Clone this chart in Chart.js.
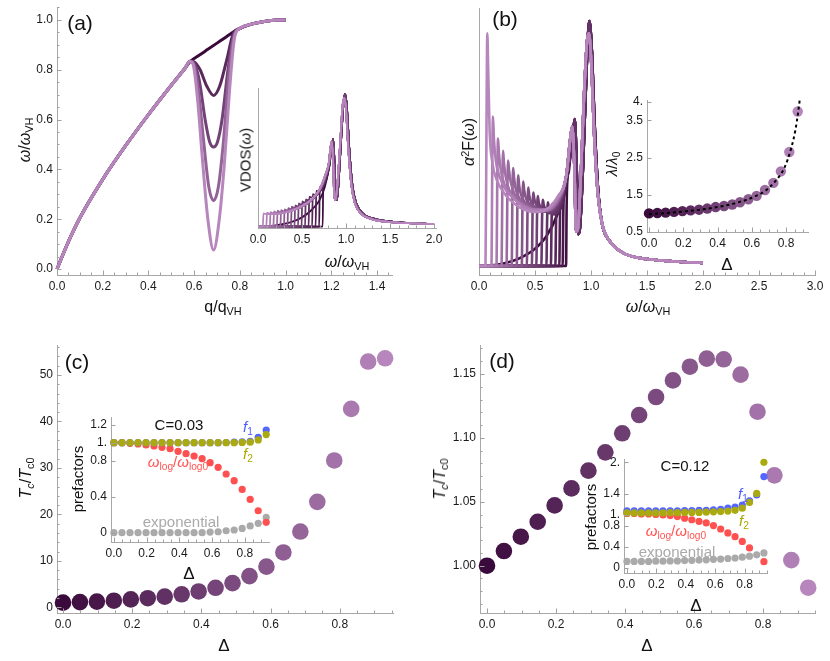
<!DOCTYPE html>
<html><head><meta charset="utf-8">
<script src="https://cdn.jsdelivr.net/npm/chart.js@4.4.0/dist/chart.umd.min.js"></script>
<style>
html,body{margin:0;padding:0;background:#fff;}
#wrap{position:relative;width:830px;height:661px;overflow:hidden;font-family:"Liberation Sans",Arial,sans-serif;color:#111;}
canvas{position:absolute;left:0;top:0;}
.t{position:absolute;white-space:nowrap;transform:translate(-50%,-50%);line-height:1;}
.r{transform:translate(-50%,-50%) rotate(-90deg);}
sub{font-size:0.68em;vertical-align:-0.3em;line-height:0;}
sup{font-size:0.68em;vertical-align:0.5em;line-height:0;}
</style></head><body><div id="wrap">
<canvas id="cA" width="830" height="661"></canvas>
<canvas id="cAi" width="830" height="661"></canvas>
<canvas id="cB" width="830" height="661"></canvas>
<canvas id="cBi" width="830" height="661"></canvas>
<canvas id="cC" width="830" height="661"></canvas>
<canvas id="cCi" width="830" height="661"></canvas>
<canvas id="cD" width="830" height="661"></canvas>
<canvas id="cDi" width="830" height="661"></canvas>

<div class="t" style="left:80px;top:22px;font-size:21px">(a)</div>
<div class="t" style="left:505px;top:18px;font-size:21px">(b)</div>
<div class="t" style="left:77px;top:361px;font-size:21px">(c)</div>
<div class="t" style="left:502px;top:360px;font-size:21px">(d)</div>

<div class="t r" style="left:25px;top:140px;font-size:16px"><i>ω</i>/<i>ω</i><sub>VH</sub></div>
<div class="t" style="left:223px;top:307px;font-size:16px">q/q<sub>VH</sub></div>
<div class="t" style="left:347px;top:262px;font-size:16px"><i>ω</i>/<i>ω</i><sub>VH</sub></div>
<div class="t r" style="left:245px;top:160px;font-size:15px">VDOS(<i>ω</i>)</div>

<div class="t r" style="left:469px;top:142px;font-size:16px"><i>α</i><sup>2</sup>F(<i>ω</i>)</div>
<div class="t" style="left:648px;top:307px;font-size:16px"><i>ω</i>/<i>ω</i><sub>VH</sub></div>
<div class="t r" style="left:611px;top:164px;font-size:15px"><i>λ</i>/<i>λ</i><sub>0</sub></div>
<div class="t" style="left:727px;top:264px;font-size:17px">Δ</div>

<div class="t r" style="left:26px;top:478px;font-size:16px"><i>T</i><sub><i>c</i></sub>/<i>T</i><sub>c0</sub></div>
<div class="t" style="left:224px;top:645px;font-size:17px">Δ</div>
<div class="t r" style="left:77px;top:479px;font-size:15px">prefactors</div>
<div class="t" style="left:189px;top:573px;font-size:17px">Δ</div>
<div class="t" style="left:179px;top:424px;font-size:15px">C=0.03</div>
<div class="t" style="left:248px;top:426px;font-size:15px;color:#4d5cff"><i>f</i><sub>1</sub></div>
<div class="t" style="left:248px;top:453px;font-size:15px;color:#a8a800"><i>f</i><sub>2</sub></div>
<div class="t" style="left:178px;top:461px;font-size:15px;color:#ff5555"><i>ω</i><sub>log</sub>/<i>ω</i><sub>log0</sub></div>
<div class="t" style="left:181px;top:521px;font-size:15px;color:#aaaaaa">exponential</div>

<div class="t r" style="left:440px;top:479px;font-size:16px"><i>T</i><sub><i>c</i></sub>/<i>T</i><sub>c0</sub></div>
<div class="t" style="left:647px;top:645px;font-size:17px">Δ</div>
<div class="t r" style="left:590px;top:517px;font-size:15px">prefactors</div>
<div class="t" style="left:696px;top:605px;font-size:17px">Δ</div>
<div class="t" style="left:685px;top:465px;font-size:15px">C=0.12</div>
<div class="t" style="left:743px;top:493px;font-size:15px;color:#4d5cff"><i>f</i><sub>1</sub></div>
<div class="t" style="left:744px;top:520px;font-size:15px;color:#a8a800"><i>f</i><sub>2</sub></div>
<div class="t" style="left:676px;top:530px;font-size:15px;color:#ff5555"><i>ω</i><sub>log</sub>/<i>ω</i><sub>log0</sub></div>
<div class="t" style="left:677px;top:551px;font-size:15px;color:#aaaaaa">exponential</div>
</div>
<script>
// ================= DATA =================
// Panel (a): dispersion curves
const aBaseLeft = [[0,0],[0.05,0.11],[0.1,0.205],[0.2,0.36],[0.3,0.495],[0.4,0.62],[0.5,0.738],[0.56,0.806]];
const aBaseRight = [[0.8,0.966],[0.85,0.983],[0.9,0.993],[0.95,0.999],[1.0,1.0]];
const aMid0 = [[0.582,0.832],[0.62,0.857],[0.66,0.882],[0.7,0.907],[0.74,0.932],[0.779,0.956]];
const aMid1 = [[0.582,0.834],[0.6,0.832],[0.626,0.8],[0.655,0.735],[0.685,0.697],[0.712,0.735],[0.742,0.838],[0.771,0.945]];
const aMid2 = [[0.582,0.834],[0.598,0.828],[0.622,0.76],[0.648,0.6],[0.668,0.51],[0.685,0.49],[0.702,0.51],[0.722,0.6],[0.748,0.8],[0.773,0.94]];
const aMid3 = [[0.582,0.834],[0.597,0.824],[0.618,0.72],[0.643,0.5],[0.664,0.33],[0.685,0.274],[0.706,0.33],[0.727,0.5],[0.752,0.78],[0.775,0.935]];
const aMid4 = [[0.582,0.834],[0.596,0.82],[0.615,0.68],[0.638,0.42],[0.66,0.2],[0.685,0.076],[0.71,0.2],[0.732,0.42],[0.755,0.72],[0.777,0.93]];
const aXTicks = [0,0.2,0.4,0.6,0.8,1.0,1.2,1.4];
const aXLabels = ['0.0','0.2','0.4','0.6','0.8','1.0','1.2','1.4'];
const aYTicks = [0,0.2,0.4,0.6,0.8,1.0];
const aYLabels = ['0.0','0.2','0.4','0.6','0.8','1.0'];

// Panel (a) inset: VDOS curves, lightest (largest gap) to darkest (no gap)
const vHeads = [
 [[0,0],[0.055,0],[0.062,0.1],[0.09,0.095],[0.2,0.095],[0.3,0.105],[0.4,0.125],[0.5,0.155],[0.6,0.2],[0.7,0.28],[0.76,0.38]],
 [[0,0],[0.095,0],[0.102,0.105],[0.13,0.098],[0.2,0.096],[0.3,0.106],[0.4,0.126],[0.5,0.156],[0.6,0.2],[0.7,0.28],[0.76,0.38]],
 [[0,0],[0.135,0],[0.142,0.11],[0.17,0.1],[0.25,0.1],[0.35,0.115],[0.45,0.14],[0.55,0.175],[0.65,0.235],[0.72,0.31],[0.77,0.4]],
 [[0,0],[0.175,0],[0.182,0.115],[0.21,0.105],[0.28,0.105],[0.38,0.12],[0.48,0.148],[0.58,0.19],[0.67,0.25],[0.73,0.32],[0.77,0.4]],
 [[0,0],[0.215,0],[0.222,0.12],[0.25,0.11],[0.32,0.11],[0.42,0.128],[0.52,0.16],[0.62,0.21],[0.7,0.28],[0.77,0.4]],
 [[0,0],[0.255,0],[0.262,0.125],[0.29,0.115],[0.36,0.118],[0.46,0.138],[0.56,0.175],[0.65,0.23],[0.72,0.3],[0.78,0.41]],
 [[0,0],[0.295,0],[0.302,0.13],[0.33,0.122],[0.4,0.126],[0.5,0.15],[0.6,0.195],[0.68,0.255],[0.74,0.33],[0.78,0.41]],
 [[0,0],[0.335,0],[0.342,0.14],[0.37,0.132],[0.44,0.138],[0.54,0.165],[0.63,0.215],[0.7,0.28],[0.75,0.35],[0.79,0.43]],
 [[0,0],[0.375,0],[0.382,0.15],[0.41,0.142],[0.48,0.15],[0.57,0.18],[0.65,0.23],[0.71,0.29],[0.76,0.37],[0.79,0.43]],
 [[0,0],[0.415,0],[0.422,0.16],[0.45,0.153],[0.52,0.163],[0.6,0.195],[0.67,0.245],[0.72,0.3],[0.77,0.38],[0.8,0.45]],
 [[0,0],[0.455,0],[0.462,0.175],[0.49,0.168],[0.56,0.18],[0.63,0.21],[0.69,0.26],[0.74,0.32],[0.78,0.4],[0.8,0.45]],
 [[0,0],[0.495,0],[0.502,0.19],[0.53,0.183],[0.59,0.195],[0.65,0.225],[0.7,0.27],[0.75,0.34],[0.8,0.45]],
 [[0,0],[0.535,0],[0.542,0.205],[0.57,0.2],[0.62,0.21],[0.67,0.24],[0.72,0.29],[0.76,0.35],[0.8,0.45]],
 [[0,0],[0.575,0],[0.582,0.225],[0.61,0.22],[0.66,0.235],[0.7,0.26],[0.74,0.31],[0.78,0.38],[0.81,0.47]],
 [[0,0],[0.615,0],[0.622,0.245],[0.65,0.24],[0.69,0.255],[0.73,0.29],[0.77,0.35],[0.81,0.47]],
 [[0,0],[0.655,0],[0.662,0.27],[0.69,0.265],[0.73,0.29],[0.76,0.33],[0.79,0.4],[0.82,0.5]],
 [[0,0],[0.695,0],[0.702,0.3],[0.73,0.3],[0.76,0.33],[0.79,0.4],[0.82,0.5]],
 [[0,0],[0.735,0],[0.742,0.34],[0.77,0.35],[0.8,0.42],[0.82,0.5]],
 [[0,0],[0.2,0.01],[0.4,0.04],[0.5,0.07],[0.6,0.12],[0.7,0.2],[0.76,0.3],[0.8,0.42]]
];
const vTailLight = [[0.805,0.48],[0.825,0.6],[0.838,0.64],[0.852,0.52],[0.866,0.24],[0.88,0.2],[0.905,0.34],[0.935,0.64],[0.96,0.9],[0.978,0.97],[0.998,0.9],[1.025,0.6],[1.06,0.32],[1.1,0.18],[1.17,0.1],[1.3,0.055],[1.5,0.035],[1.75,0.025],[2.0,0.02]];
const vTailDark = [[0.825,0.55],[0.842,0.62],[0.855,0.66],[0.868,0.5],[0.882,0.2],[0.897,0.2],[0.92,0.38],[0.95,0.72],[0.975,0.95],[0.992,1.0],[1.01,0.9],[1.04,0.56],[1.075,0.3],[1.12,0.17],[1.2,0.095],[1.35,0.055],[1.55,0.035],[1.8,0.025],[2.0,0.02]];
const aiXTicks = [0,0.5,1.0,1.5,2.0];
const aiXLabels = ['0.0','0.5','1.0','1.5','2.0'];

// Panel (b): alpha^2 F curves, lightest to darkest
const bHeads = [
 [[0,0],[0.058,0],[0.066,0.5],[0.074,0.95],[0.082,0.8],[0.095,0.55],[0.12,0.42],[0.16,0.35],[0.22,0.3],[0.3,0.26],[0.4,0.23],[0.5,0.22],[0.6,0.23],[0.7,0.28]],
 [[0,0],[0.112,0],[0.118,0.4],[0.125,0.61],[0.133,0.52],[0.15,0.43],[0.18,0.37],[0.24,0.31],[0.3,0.28],[0.4,0.24],[0.5,0.225],[0.6,0.23],[0.7,0.28]],
 [[0,0],[0.157,0],[0.163,0.35],[0.17,0.52],[0.178,0.46],[0.195,0.39],[0.23,0.33],[0.3,0.28],[0.4,0.245],[0.5,0.23],[0.6,0.23],[0.7,0.275]],
 [[0,0],[0.202,0],[0.208,0.32],[0.215,0.47],[0.223,0.42],[0.24,0.36],[0.27,0.31],[0.33,0.27],[0.4,0.245],[0.5,0.228],[0.6,0.228],[0.7,0.27]],
 [[0,0],[0.247,0],[0.253,0.3],[0.26,0.43],[0.268,0.39],[0.285,0.34],[0.32,0.29],[0.4,0.25],[0.5,0.228],[0.6,0.226],[0.7,0.265]],
 [[0,0],[0.292,0],[0.298,0.28],[0.305,0.4],[0.313,0.36],[0.33,0.31],[0.37,0.27],[0.45,0.24],[0.55,0.225],[0.65,0.235],[0.72,0.28]],
 [[0,0],[0.337,0],[0.343,0.26],[0.35,0.37],[0.358,0.33],[0.375,0.29],[0.41,0.26],[0.48,0.235],[0.58,0.225],[0.66,0.24],[0.72,0.28]],
 [[0,0],[0.382,0],[0.388,0.24],[0.395,0.345],[0.403,0.31],[0.42,0.275],[0.46,0.25],[0.53,0.23],[0.6,0.225],[0.67,0.24],[0.73,0.285]],
 [[0,0],[0.427,0],[0.433,0.22],[0.44,0.32],[0.448,0.29],[0.465,0.26],[0.5,0.24],[0.56,0.225],[0.62,0.225],[0.68,0.245],[0.73,0.285]],
 [[0,0],[0.472,0],[0.478,0.21],[0.485,0.3],[0.493,0.275],[0.51,0.25],[0.55,0.23],[0.6,0.222],[0.65,0.228],[0.7,0.25],[0.74,0.29]],
 [[0,0],[0.512,0],[0.518,0.2],[0.525,0.285],[0.533,0.26],[0.55,0.24],[0.59,0.222],[0.64,0.22],[0.69,0.24],[0.74,0.29]],
 [[0,0],[0.557,0],[0.563,0.19],[0.57,0.27],[0.578,0.25],[0.595,0.23],[0.63,0.215],[0.67,0.22],[0.71,0.245],[0.75,0.3]],
 [[0,0],[0.602,0],[0.608,0.18],[0.615,0.26],[0.623,0.24],[0.64,0.22],[0.67,0.21],[0.71,0.235],[0.75,0.29]],
 [[0,0],[0.642,0],[0.648,0.18],[0.655,0.255],[0.663,0.235],[0.68,0.215],[0.71,0.22],[0.75,0.28]],
 [[0,0],[0.682,0],[0.688,0.18],[0.695,0.26],[0.703,0.24],[0.72,0.23],[0.75,0.26],[0.78,0.34]],
 [[0,0],[0.717,0],[0.723,0.2],[0.73,0.28],[0.74,0.27],[0.76,0.29],[0.79,0.38]],
 [[0,0],[0.747,0],[0.753,0.22],[0.76,0.31],[0.77,0.31],[0.79,0.37],[0.81,0.45]],
 [[0,0],[0.777,0],[0.783,0.26],[0.79,0.36],[0.8,0.38],[0.82,0.47]],
 [[0,0],[0.1,0.002],[0.2,0.008],[0.3,0.02],[0.4,0.04],[0.5,0.07],[0.6,0.12],[0.7,0.21],[0.76,0.3],[0.8,0.4]]
];
const bTailLight = [[0.78,0.37],[0.81,0.5],[0.832,0.57],[0.852,0.4],[0.866,0.14],[0.882,0.15],[0.91,0.38],[0.94,0.72],[0.965,0.92],[0.982,0.95],[1.0,0.85],[1.03,0.52],[1.06,0.3],[1.1,0.17],[1.17,0.1],[1.3,0.05],[1.5,0.028],[1.75,0.018],[2.0,0.012]];
const bTailDark = [[0.835,0.52],[0.855,0.6],[0.872,0.4],[0.886,0.13],[0.9,0.15],[0.93,0.42],[0.96,0.8],[0.985,1.0],[1.005,0.9],[1.035,0.55],[1.065,0.3],[1.1,0.17],[1.17,0.1],[1.3,0.05],[1.5,0.028],[1.75,0.018],[2.0,0.012]];
const bXTicks = [0,0.5,1.0,1.5,2.0,2.5,3.0];
const bXLabels = ['0.0','0.5','1.0','1.5','2.0','2.5','3.0'];

// Panel (b) inset: lambda/lambda0 vs Delta
const lamDelta = [0,0.0486,0.097,0.146,0.195,0.243,0.292,0.34,0.389,0.438,0.486,0.531,0.58,0.628,0.677,0.726,0.77,0.819,0.868];
const lamRatio = [1.0,1.01,1.02,1.04,1.06,1.08,1.1,1.13,1.17,1.2,1.24,1.3,1.38,1.47,1.63,1.82,2.13,2.65,3.74];
const lamFitDelta = [0,0.1,0.2,0.3,0.4,0.5,0.6,0.68,0.74,0.79,0.83,0.855,0.87,0.88];
const lamFitRatio = [0.98,1.01,1.05,1.1,1.17,1.27,1.42,1.61,1.88,2.22,2.75,3.25,3.7,4.05];
const biXTicks = [0,0.2,0.4,0.6,0.8];
const biXLabels = ['0.0','0.2','0.4','0.6','0.8'];
const biYTicks = [0.5,1.5,2.5,3.5,4];
const biYLabels = ['0.5','1.5','2.5','3.5','4.'];

// Panels (c),(d): Tc/Tc0 vs Delta
const delta20 = [0,0.049,0.098,0.147,0.196,0.245,0.294,0.343,0.392,0.441,0.49,0.539,0.588,0.637,0.686,0.735,0.784,0.833,0.882,0.931];
const cTc = [1.0,1.12,1.22,1.42,1.7,1.95,2.3,2.8,3.4,4.2,5.2,6.7,8.75,11.8,16.3,22.7,31.6,42.7,52.9,53.6];
const dTc = [1.0,1.0115,1.0227,1.0344,1.0472,1.0605,1.0744,1.0887,1.1036,1.1179,1.132,1.145,1.1557,1.162,1.1615,1.1495,1.1205,1.0707,1.0044,0.9828];
const cXTicks = [0,0.2,0.4,0.6,0.8];
const cXLabels = ['0.0','0.2','0.4','0.6','0.8'];
const cYTicks = [0,10,20,30,40,50];
const cYLabels = ['0','10','20','30','40','50'];
const dYTicks = [1.0,1.05,1.1,1.15];
const dYLabels = ['1.00','1.05','1.10','1.15'];

// Insets (c),(d): prefactors
const cF1 = [1,1,1,1,1,1,1,1,1,1,1,1,1,1,1.002,1.005,1.01,1.015,1.06,1.14];
const cF2 = [1,1,1,1,1,1,1,1,1,1,1,1,1,1,1,1,1.003,1.005,1.03,1.09];
const cWlog = [1.0,1.0,0.993,0.985,0.974,0.963,0.948,0.933,0.904,0.878,0.852,0.822,0.778,0.726,0.652,0.578,0.481,0.37,0.244,0.115];
const cExp = [0,0,0,0,0,0,0,0,0,0,0,0,0.007,0.011,0.022,0.03,0.048,0.075,0.104,0.17];
const ciYTicks = [0,0.4,0.8,1.0,1.2];
const ciYLabels = ['0','0.4','0.8','1.','1.2'];
const dF1 = [1.08,1.08,1.08,1.08,1.08,1.08,1.08,1.08,1.085,1.085,1.09,1.09,1.1,1.11,1.13,1.15,1.19,1.27,1.38,1.73];
const dF2 = [1.04,1.04,1.04,1.04,1.04,1.04,1.045,1.045,1.05,1.05,1.05,1.055,1.06,1.065,1.075,1.09,1.13,1.24,1.41,2.0];
const dWlog = [1.03,1.03,1.02,1.02,1.01,1.0,0.99,0.97,0.94,0.91,0.88,0.85,0.8,0.735,0.66,0.59,0.5,0.375,null,0.115];
const dExp = [0.12,0.12,0.12,0.12,0.125,0.125,0.13,0.13,0.135,0.14,0.145,0.15,0.16,0.165,0.175,0.185,0.2,0.22,0.245,0.28];
const diYTicks = [0,0.4,0.8,1.0,1.4,2.0];
const diYLabels = ['0','0.4','0.8','1.','1.4','2.'];

// ================= STYLE / HELPERS =================
const W = 830, H = 661, YW = 44, XH = 22;
const FONT = '"Liberation Sans", Arial, sans-serif';
const BLUE = '#5566ff', OLIVE = '#aaaa10', RED = '#ff5050', GRAY = '#aaaaaa';
function col(t){ // t: 0 darkest, 1 lightest
  const a=[58,10,60], b=[182,134,188];
  return 'rgb('+[0,1,2].map(i=>Math.round(a[i]+(b[i]-a[i])*t)).join(',')+')';
}
const pts = arr => arr.map(p=>({x:p[0],y:p[1]}));
const zipPts = (xs,ys) => xs.map((x,i)=>({x:x,y:ys[i]}));

const mmaTicks = {
  id:'mmaTicks',
  afterDraw(chart, args, opts){
    const ctx = chart.ctx, ca = chart.chartArea;
    ctx.save(); ctx.strokeStyle = '#a0a0a0'; ctx.lineWidth = 1;
    ['x','y'].forEach(id=>{
      const s = chart.scales[id]; const o = opts[id]; if(!o) return;
      const draw = (v,len)=>{
        const p = Math.round(s.getPixelForValue(v))+0.5;
        ctx.beginPath();
        if(id==='x'){ ctx.moveTo(p,ca.bottom); ctx.lineTo(p,ca.bottom-len); }
        else { ctx.moveTo(ca.left,p); ctx.lineTo(ca.left+len,p); }
        ctx.stroke();
      };
      if(o.minor){
        for(let i=Math.ceil(s.min/o.minor-1e-6); i*o.minor<=s.max+1e-9; i++) draw(i*o.minor,2.5);
      }
      if(o.major) s.ticks.forEach(t=>draw(t.value,4.5));
    });
    ctx.restore();
  }
};

function axis(dir, a){
  return {
    type:'linear', min:a.min, max:a.max,
    afterFit(s){ if(dir==='x') s.height=XH; else s.width=YW; s.paddingLeft=0; s.paddingRight=0; s.paddingTop=0; s.paddingBottom=0; },
    afterBuildTicks(s){ s.ticks = (a.ticks||[]).map(v=>({value:v})); },
    ticks:{display:!!a.labels, padding:a.pad||4, color:'#1a1a1a', autoSkip:false, maxRotation:0, minRotation:0,
      font:{family:FONT,size:12}, callback:(v,i)=> a.labels ? a.labels[i] : ''},
    grid:{display:false, drawTicks:false},
    border:{display:true, color:'#a8a8a8', width:1}
  };
}
function mk(id, area, xa, ya, datasets, tickOpts){
  return new Chart(document.getElementById(id), {
    type:'scatter',
    data:{datasets:datasets},
    options:{
      responsive:false, animation:false, events:[], devicePixelRatio:1,
      layout:{padding:{left:area[0]-YW, top:area[1], right:W-area[2], bottom:H-area[3]-XH}},
      plugins:{legend:{display:false}, tooltip:{enabled:false}, mmaTicks:tickOpts},
      scales:{x:axis('x',xa), y:axis('y',ya)}
    },
    plugins:[mmaTicks]
  });
}
const lineDs = (data,color,w)=>({data:data, showLine:true, borderColor:color, borderWidth:w, pointRadius:0, cubicInterpolationMode:'monotone', fill:false, clip:false});
const dotDs = (data,colors,r)=>({data:data, showLine:false, pointRadius:r, pointBackgroundColor:colors, pointBorderWidth:0, borderWidth:0, clip:false});

// ================= PANEL (a) =================
const aMids = [aMid4, aMid3, aMid2, aMid1, aMid0];      // lightest first (drawn on top)
const aTones = [1.0, 0.72, 0.45, 0.25, 0.0];
mk('cA', [57,7,392,275],
  {min:0, max:1.4655, ticks:aXTicks, labels:aXLabels},
  {min:-0.024, max:1.052, ticks:aYTicks, labels:aYLabels},
  aMids.map((m,k)=>lineDs(pts(aBaseLeft.concat(m, aBaseRight)), col(aTones[k]), 3)),
  {x:{major:true, minor:0.05}, y:{major:true, minor:0.05}});

mk('cAi', [258,88,436,228],
  {min:0, max:2.023, ticks:aiXTicks, labels:aiXLabels},
  {min:-0.01, max:1.045, ticks:[]},
  vHeads.map((h,k)=>lineDs(pts(h.concat(k<10?vTailLight:vTailDark)), col(1-k/18), 1.8)),
  {x:{major:true, minor:0.1}});

// ================= PANEL (b) =================
mk('cB', [479,8,815,275],
  {min:0, max:3.0, ticks:bXTicks, labels:bXLabels},
  {min:-0.037, max:1.053, ticks:[]},
  bHeads.map((h,k)=>lineDs(pts(h.concat(k<12?bTailLight:bTailDark)), col(1-k/18), 2.6)),
  {x:{major:true, minor:0.1}});

mk('cBi', [647,100,808,232],
  {min:-0.0117, max:0.9282, ticks:biXTicks, labels:biXLabels},
  {min:0.5, max:4.048, ticks:biYTicks, labels:biYLabels},
  [
    Object.assign(lineDs(zipPts(lamFitDelta,lamFitRatio),'#000',2), {borderDash:[3,3]}),
    dotDs(zipPts(lamDelta,lamRatio), lamDelta.map((d,i)=>col(i/18)), 5.2)
  ],
  {x:{major:true, minor:0.05}, y:{major:true}});

// ================= PANEL (c) =================
mk('cC', [57,345,393,613],
  {min:-0.0173, max:0.9538, ticks:cXTicks, labels:cXLabels},
  {min:-1.23, max:56.46, ticks:cYTicks, labels:cYLabels},
  [dotDs(zipPts(delta20,cTc), delta20.map((d,i)=>col(i/19)), 8.3)],
  {x:{major:true, minor:0.05}, y:{major:true, minor:2}});

mk('cCi', [111,417,269,542],
  {min:-0.018, max:0.948, ticks:cXTicks, labels:cXLabels},
  {min:-0.103, max:1.285, ticks:ciYTicks, labels:ciYLabels},
  [
    dotDs(zipPts(delta20,cF2), OLIVE, 3.6),
    dotDs(zipPts(delta20,cF1), BLUE, 3.6),
    dotDs(zipPts(delta20,cWlog), RED, 3.6),
    dotDs(zipPts(delta20,cExp), GRAY, 3.6)
  ],
  {x:{major:true, minor:0.05}, y:{major:true}});

// ================= PANEL (d) =================
mk('cD', [480,345,815,613],
  {min:-0.0203, max:0.9507, ticks:cXTicks, labels:cXLabels},
  {min:0.963, max:1.1727, ticks:dYTicks, labels:dYLabels},
  [dotDs(zipPts(delta20,dTc), delta20.map((d,i)=>col(i/19)), 8.3)],
  {x:{major:true, minor:0.05}, y:{major:true, minor:0.01}});

mk('cDi', [624,459,767,573],
  {min:-0.02, max:0.952, ticks:cXTicks, labels:cXLabels},
  {min:-0.1, max:2.063, ticks:diYTicks, labels:diYLabels},
  [
    dotDs(zipPts(delta20,dF2), OLIVE, 3.6),
    dotDs(zipPts(delta20,dF1), BLUE, 3.6),
    dotDs(zipPts(delta20,dWlog), RED, 3.6),
    dotDs(zipPts(delta20,dExp), GRAY, 3.6)
  ],
  {x:{major:true, minor:0.05}, y:{major:true}});
</script>
</body></html>
